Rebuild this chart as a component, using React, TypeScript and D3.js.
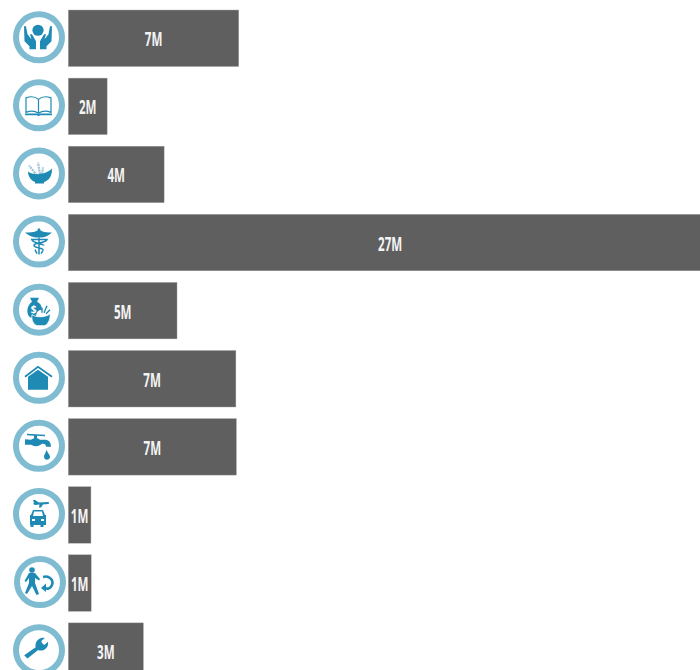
import React from "react";
import { scaleBand, scaleLinear } from "d3";

// one row per sector, values in millions
// the 27M bar runs past the right edge of the picture and is cut off there
const sectors = ["protection", "education", "food", "health", "livelihoods", "shelter", "water", "logistics", "displacement", "recovery"];
const values = [7.15, 1.63, 4.02, 27, 4.56, 7.03, 7.05, 0.95, 0.96, 3.15];
const labels = ["7M", "2M", "4M", "27M", "5M", "7M", "7M", "1M", "1M", "3M"];

const width = 700;
const height = 670;
const barLeft = 68.3;
const iconBlue = "#1f8ab4";
const ringBlue = "#7fbcd2";
const barGrey = "#5f5f5f";

const x = scaleLinear().domain([0, 27]).range([barLeft, 712]);
const y = scaleBand<string>().domain(sectors).range([10, 679.4]).paddingInner(0.17).paddingOuter(0);

// icons are drawn around 0,0 inside the ring
function Protection() {
  const hand = "M-14,-11 L-12,-11 L-10.5,-3 L-6.5,2 L-8,-3 L-6,-3 L-2,4 L-2,12 L-8.5,12 L-8.5,9 L-13.5,4 Z";
  return (
    <g fill={iconBlue}>
      <circle cx={-1} cy={-7} r={5.6} />
      <path d={hand} transform="translate(-1,0)" />
      <path d={hand} transform="translate(-1,0) scale(-1,1)" />
    </g>
  );
}

function Book() {
  return (
    <g fill="none" stroke={iconBlue}>
      <path strokeWidth={1.2} d="M-0.5,-6 C-4,-9 -9,-9 -13,-7.5 L-13,7 C-9,5.5 -4,5.5 -0.5,8 C3,5.5 8,5.5 12,7 L12,-7.5 C8,-9 3,-9 -0.5,-6 Z M-0.5,-6 L-0.5,8" />
      <path strokeWidth={1.6} d="M-14,9 L-2,9 L-0.5,10 L1,9 L13,9" />
    </g>
  );
}

function Bowl() {
  return (
    <g>
      <g stroke="#9cc6d8" strokeWidth={2.2} fill="none" strokeDasharray="2.2 0.7">
        <path d="M-2,2 L-10,-8" />
        <path d="M1,1 L-1,-11" />
        <path d="M3,1 L4,-6" />
      </g>
      <path fill={iconBlue} d="M-11,-2 C-6,2 6,2 13,-5 C13.5,3 9,7.5 5,8.5 L5,10 L-4,10 L-4,8.5 C-8,7 -11,3 -11,-2 Z" />
    </g>
  );
}

function Caduceus() {
  return (
    <g>
      <path fill={iconBlue} d="M-14,-9 C-10,-9 -5,-9 -1.5,-11 L-1,-13 L1,-13 L1.5,-11 C5,-9 10,-9 13,-9 C10,-6 5,-4 2,-4 L-2,-4 C-5,-4 -11,-6 -14,-9 Z" />
      <path fill="none" stroke={iconBlue} strokeWidth={1.5} d="M0,-4 L0,13 M-8,-2 L8,-2 C7,2 -6,1 -5,4 C-4,7 5,6 4,9 M-7,-2 C-7,2 5,2 5,4 M-4,8 L-2,12 M4,9 L2,12" />
    </g>
  );
}

function Livelihoods() {
  return (
    <g>
      <path fill={iconBlue} d="M-9,-12 L0,-12 L-2,-8 C2,-6 3,-3 3,0 C-1,0 -3,3 -3,7 L-8,8 C-13,6 -13,-4 -7,-8 Z" />
      <text x={-5.5} y={3} fontSize={10} fontWeight={700} fontFamily="Open Sans" fill="#fff" textAnchor="middle">$</text>
      <path fill="none" stroke={iconBlue} strokeWidth={1.4} d="M5,3 L8,-4 M3,3 L3,-2 M7,4 L11,0" />
      <path fill={iconBlue} stroke="#fff" strokeWidth={0.8} d="M-7,5 C-3,8 7,8 11,4 C12,10 8,16 5,16 L-2,16 C-5,15 -8,11 -7,5 Z" />
    </g>
  );
}

function House() {
  return (
    <g>
      <path fill="none" stroke={iconBlue} strokeWidth={1.8} d="M-14,-1 L-1,-11 L13,-1" />
      <path fill={iconBlue} d="M-11,-1 L-1,-8 L9,-1 L9,12 L-11,12 Z" />
    </g>
  );
}

function Tap() {
  return (
    <g fill={iconBlue}>
      <path d="M-12,-12 L6,-11 L6,-9.5 L-2,-10 L-2,-7 L-5,-7 L-5,-10 L-12,-10.5 Z" />
      <path d="M-14,-6.5 L-8,-6 C-4,-9 -1,-8 1,-6 L7,-6 C11,-5 12,-2 12,1 L7,1 C7,-2 5,-2 3,-2 C0,1 -5,1 -8,-1 L-14,-1 Z" />
      <path d="M7.5,4 C9,8 11,9 11,11 C11,15 5,15 5,11 C5,9 6.5,8 7.5,4 Z" />
    </g>
  );
}

function Logistics() {
  return (
    <g fill={iconBlue}>
      <path d="M-6,-14 L-4,-14 L0,-11.5 L9,-12 C11,-11.5 10,-10 9,-10 L4,-9.5 L2,-6.5 L0,-6.5 L0.5,-9.5 L-4,-9 L-6,-10 L-5,-11 Z" />
      <path fillRule="evenodd" d="M-6,-4 L4,-4 L6,1 L7,1 L7,11 L4.5,11 L4.5,13 L1.5,13 L1.5,11 L-5.5,11 L-5.5,13 L-8.5,13 L-8.5,11 L-9,11 L-9,1 L-8,1 Z M-5,-2.5 L-6,2 L4,2 L3,-2.5 Z M-7,5 L-7,7 L-4,7 L-4,5 Z M2,5 L2,7 L5,7 L5,5 Z" />
    </g>
  );
}

function Displacement() {
  return (
    <g>
      <circle cx={-8} cy={-12} r={2.8} fill={iconBlue} />
      <path fill={iconBlue} d="M-11,-9 L-5,-9 L0,-3 L-1,-1.5 L-5,-4 L-5,1 L-1,12 L-3.5,13 L-8,4 L-13,12 L-15,11 L-11,1 L-11,-4 L-14,0 L-15.5,-1 Z" />
      <path fill="none" stroke={iconBlue} strokeWidth={2.6} d="M3,-5 C9,-7 14,-2 12,3 C10.5,7 7,7 5,6" />
      <path fill={iconBlue} d="M6,1.5 L6,10 L1,6 Z" />
    </g>
  );
}

function Wrench() {
  return (
    <path
      fill={iconBlue}
      transform="translate(-2.5,-3) scale(0.82)"
      d="M-15,10 L-1,0 C-2,-5 1,-10 6,-11 C8,-11.5 9,-11.5 10,-11 L6,-7.5 C6,-5 8,-3 10,-3 L14,-6.5 C15,-2 12,3 7,4 C5,4.5 3,4 2,3.5 L-11,14 Z"
    />
  );
}

const icons = [Protection, Book, Bowl, Caduceus, Livelihoods, House, Tap, Logistics, Displacement, Wrench];

export default function App() {
  return (
    <svg
      width={width}
      height={height}
      viewBox={`0 0 ${width} ${height}`}
      style={{ position: "absolute", left: 0, top: 0, display: "block", overflow: "hidden" }}
    >
      {sectors.map((s, i) => {
        const Icon = icons[i];
        const top = y(s) as number;
        const mid = top + y.bandwidth() / 2;
        const barMid = (x(0) + x(values[i])) / 2;
        return (
          <g key={s}>
            <rect
              x={x(0)}
              y={top}
              width={x(values[i]) - x(0)}
              height={y.bandwidth()}
              fill={barGrey}
              stroke="#a8a8a8"
              strokeWidth={0.4}
            />
            <g transform={`translate(${i === 8 ? 40 : 39},${mid - 1})`}>
              <circle r={23} fill="#fff" stroke={ringBlue} strokeWidth={6} />
              <Icon />
            </g>
            {/* the label font is a condensed one, so squeeze a normal face */}
            <text
              transform={`translate(${barMid},${mid + 8}) scale(0.58,1)`}
              textAnchor="middle"
              fontFamily="'Open Sans'"
              fontWeight={700}
              fontSize={20}
              fill="#f4f4f4"
            >
              {labels[i]}
            </text>
          </g>
        );
      })}
    </svg>
  );
}
